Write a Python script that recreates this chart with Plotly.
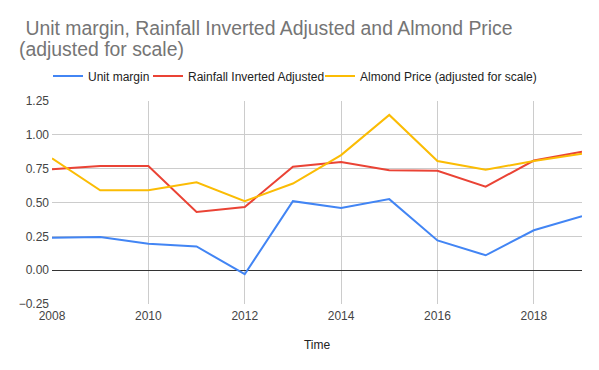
import plotly.graph_objects as go

years = list(range(2008, 2020))
unit_margin = [0.24, 0.245, 0.195, 0.175, -0.03, 0.51, 0.46, 0.525, 0.22, 0.11, 0.295, 0.398]
rainfall_inv_adj = [0.745, 0.77, 0.77, 0.43, 0.466, 0.765, 0.80, 0.738, 0.735, 0.617, 0.81, 0.875]
almond_price = [0.826, 0.59, 0.59, 0.65, 0.51, 0.64, 0.85, 1.147, 0.806, 0.743, 0.806, 0.86]

series_names = ["Unit margin", "Rainfall Inverted Adjusted", "Almond Price (adjusted for scale)"]
colors = ["#4285F4", "#EA4335", "#FBBC04"]
legend_ids = ["legend", "legend2", "legend3"]

title_lines = ["\u00a0Unit margin, Rainfall Inverted Adjusted and Almond Price", "(adjusted for scale)"]

W, H = 599, 370
OFF = 8  # page body margin offset
PL, PT, PW, PH = 52, 101, 530, 203  # desired plot area in page pixels
legend_x_px = [40, 140, 312]
font = "Liberation Sans, Arial, sans-serif"

fig = go.Figure()
for name, vals, c, lg in zip(series_names, [unit_margin, rainfall_inv_adj, almond_price], colors, legend_ids):
    fig.add_trace(go.Scatter(x=years, y=vals, mode="lines", name=name,
                             line=dict(color=c, width=2), legend=lg))

legend_common = dict(orientation="h", xref="container", xanchor="left",
                     y=1 - (76 - OFF) / H, yref="container", yanchor="middle",
                     font=dict(family=font, size=12, color="#222222"),
                     itemwidth=30, bgcolor="rgba(0,0,0,0)")
legends = {}
for lg, xp in zip(legend_ids, legend_x_px):
    legends[lg] = dict(legend_common, x=xp / W)

ml, mt = PL - OFF, PT - OFF
fig.update_layout(
    width=W, height=H,
    margin=dict(l=ml, r=W - ml - PW, t=mt, b=H - mt - PH, autoexpand=False),
    paper_bgcolor="white", plot_bgcolor="white",
    font=dict(family=font, size=12, color="#444444"),
    showlegend=True,
    **legends,
)

def px_x(px):
    return (px - PL) / PW

def px_y(py):
    return 1 + (PT - py) / PH

fig.add_annotation(text=title_lines[0], xref="paper", yref="paper",
                   x=px_x(18), y=px_y(28), xanchor="left", yanchor="middle", showarrow=False,
                   font=dict(family=font, size=19.4, color="#757575"))
fig.add_annotation(text=title_lines[1], xref="paper", yref="paper",
                   x=px_x(17), y=px_y(49), xanchor="left", yanchor="middle", showarrow=False,
                   font=dict(family=font, size=19.4, color="#757575"))

fig.update_xaxes(range=[2008, 2019], tickmode="array", tickvals=[2008, 2010, 2012, 2014, 2016, 2018],
                 showgrid=True, gridcolor="#cccccc", gridwidth=1, zeroline=False,
                 showline=False, ticks="", ticklabelstandoff=3,
                 tickfont=dict(size=12, color="#444444"),
                 title=dict(text="Time", font=dict(size=12, color="#222222"), standoff=18))
fig.update_yaxes(range=[-0.25, 1.25], tickmode="array",
                 tickvals=[-0.25, 0, 0.25, 0.5, 0.75, 1.0, 1.25],
                 tickformat=".2f", showgrid=True, gridcolor="#cccccc", gridwidth=1,
                 zeroline=True, zerolinecolor="#333333", zerolinewidth=1,
                 showline=False, ticks="", ticklabelstandoff=2,
                 tickfont=dict(size=12, color="#444444"))

fig.write_html("out.html")
